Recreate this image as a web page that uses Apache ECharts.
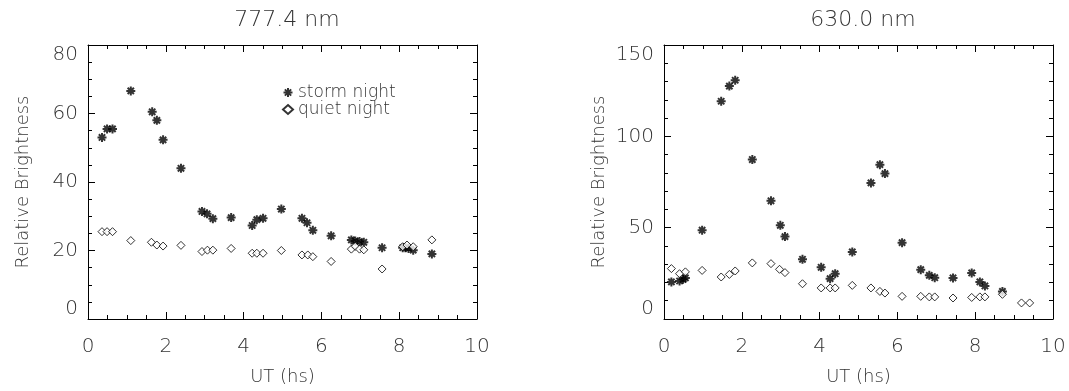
<!DOCTYPE html>
<html>
<head>
<meta charset="utf-8">
<script src="https://cdn.jsdelivr.net/npm/echarts@6/dist/echarts.min.js"></script>
<style>
  html, body { margin: 0; padding: 0; background: #fff; }
  #chart { width: 1069px; height: 391px; }
</style>
</head>
<body>
<div id="chart"></div>
<script>
// 777.4 nm panel
const storm777X = [0.36, 0.49, 0.63, 1.1, 1.65, 1.77, 1.93, 2.39, 2.93, 3.06, 3.21, 3.68, 4.22, 4.34, 4.5, 4.97, 5.5, 5.63, 5.78, 6.25, 6.77, 6.87, 6.98, 7.09, 7.56, 8.09, 8.16, 8.24, 8.36, 8.84];
const storm777Y = [53.0, 55.5, 55.5, 66.6, 60.5, 58.0, 52.3, 44.0, 31.4, 30.7, 29.3, 29.6, 27.3, 29.0, 29.4, 32.1, 29.4, 28.1, 25.9, 24.3, 23.1, 22.8, 22.6, 22.4, 20.8, 20.8, 20.8, 20.6, 20.1, 19.0];
const quiet777X = [0.36, 0.49, 0.63, 1.1, 1.63, 1.77, 1.93, 2.39, 2.93, 3.07, 3.21, 3.68, 4.22, 4.34, 4.5, 4.97, 5.5, 5.65, 5.78, 6.25, 6.77, 6.87, 6.98, 7.09, 7.56, 8.09, 8.2, 8.36, 8.84];
const quiet777Y = [25.5, 25.5, 25.5, 22.9, 22.4, 21.6, 21.3, 21.5, 19.7, 20.1, 20.1, 20.6, 19.2, 19.2, 19.2, 20.0, 18.7, 18.7, 18.2, 16.8, 20.4, 21.2, 20.4, 20.2, 14.6, 21.1, 21.6, 21.1, 23.1];

// 630.0 nm panel
const storm630X = [0.19, 0.40, 0.49, 0.55, 0.98, 1.47, 1.68, 1.83, 2.27, 2.75, 2.99, 3.11, 3.56, 4.04, 4.27, 4.40, 4.84, 5.32, 5.55, 5.68, 6.12, 6.60, 6.82, 6.96, 7.43, 7.91, 8.12, 8.25, 8.70];
const storm630Y = [20.3, 20.8, 21.7, 22.5, 48.6, 119.2, 127.5, 130.7, 87.3, 64.7, 51.3, 45.1, 32.7, 28.3, 22.1, 24.8, 36.7, 74.5, 84.5, 79.6, 41.8, 27.0, 23.9, 22.6, 22.5, 25.2, 20.3, 18.1, 15.1];
const quiet630X = [0.19, 0.40, 0.55, 0.98, 1.47, 1.68, 1.83, 2.27, 2.75, 2.97, 3.11, 3.56, 4.04, 4.27, 4.40, 4.84, 5.32, 5.55, 5.68, 6.12, 6.60, 6.82, 6.96, 7.43, 7.91, 8.12, 8.25, 8.70, 9.19, 9.40];
const quiet630Y = [27.6, 24.8, 25.8, 26.6, 23.0, 24.4, 26.3, 30.7, 30.3, 27.2, 25.4, 19.3, 17.0, 17.0, 17.0, 18.4, 17.0, 15.1, 14.2, 12.4, 12.4, 12.1, 12.1, 11.5, 11.8, 12.1, 12.1, 13.5, 8.8, 8.8];

const titles = ["777.4 nm", "630.0 nm"];
const yRanges = [[0, 80, 20, 4], [0, 150, 50, 5]];

const font = "DejaVu Sans";
const ink = "#333";
const asterisk = "path://M0,5L10,5M5,0L5,10M1.5,1.5L8.5,8.5M8.5,1.5L1.5,8.5";

function zip(xs, ys) {
    return xs.map((x, i) => [x, ys[i]]);
}

// box edges, ticks pointing into the plot like the IDL original
function line() {
    return { show: true, onZero: false, lineStyle: { color: "#000", width: 1 } };
}
function ticks() {
    return { show: true, inside: true, length: 7 };
}
function minors(n) {
    return { show: true, splitNumber: n, length: 4, lineStyle: { color: "#000" } };
}
function hiddenSplit() {
    return { show: true, lineStyle: { opacity: 0 } };
}

const grids = [
    { left: 88, top: 45, width: 389, height: 276 },
    { left: 664, top: 45, width: 389, height: 276 },
];

const xAxes = [];
const yAxes = [];
[0, 1].forEach((g) => {
    xAxes.push({
        gridIndex: g, type: "value", min: 0, max: 10, interval: 2,
        axisLine: line(), axisTick: ticks(), minorTick: minors(4), splitLine: hiddenSplit(),
        axisLabel: { margin: 18, fontSize: 20, fontFamily: font, fontWeight: 200, color: ink },
        name: "UT (hs)", nameLocation: "middle", nameGap: 49,
        nameTextStyle: { fontSize: 18, fontFamily: font, fontWeight: 200, color: ink },
    });
    xAxes.push({
        gridIndex: g, type: "value", min: 0, max: 10, interval: 2, position: "top",
        axisLine: line(), axisTick: ticks(), minorTick: minors(4), splitLine: hiddenSplit(),
        axisLabel: { show: false },
    });
    const r = yRanges[g];
    yAxes.push({
        gridIndex: g, type: "value", min: r[0], max: r[1], interval: r[2],
        axisLine: line(), axisTick: ticks(), minorTick: minors(r[3]), splitLine: hiddenSplit(),
        axisLabel: {
            margin: 10, fontSize: 20, fontFamily: font, fontWeight: 200, color: ink,
            verticalAlignMinLabel: "bottom", verticalAlignMaxLabel: "top",
        },
        name: "Relative Brightness", nameLocation: "middle", nameGap: 56,
        nameTextStyle: { fontSize: 18, fontFamily: font, fontWeight: 200, color: ink },
    });
    yAxes.push({
        gridIndex: g, type: "value", min: r[0], max: r[1], interval: r[2], position: "right",
        axisLine: line(), axisTick: ticks(), minorTick: minors(r[3]), splitLine: hiddenSplit(),
        axisLabel: { show: false },
    });
});

const stormStyle = { color: "none", borderColor: "#000", borderWidth: 2 };
const quietStyle = { color: "#fff", borderColor: "#000", borderWidth: 1 };

const chart = echarts.init(document.getElementById("chart"));
chart.setOption({
    animation: false,
    title: [
        { text: titles[0], left: 282, top: 4, textAlign: "center",
          textStyle: { fontSize: 22, fontWeight: 200, fontFamily: font, color: ink } },
        { text: titles[1], left: 858, top: 4, textAlign: "center",
          textStyle: { fontSize: 22, fontWeight: 200, fontFamily: font, color: ink } },
    ],
    legend: {
        data: ["storm night", "quiet night"],
        orient: "vertical", left: 276, top: 79, itemGap: 0,
        itemWidth: 10, itemHeight: 9,
        textStyle: { fontSize: 17, fontFamily: font, fontWeight: 200, color: ink },
    },
    grid: grids,
    xAxis: xAxes,
    yAxis: yAxes,
    series: [
        { name: "storm night", type: "scatter", xAxisIndex: 0, yAxisIndex: 0,
          symbol: asterisk, symbolSize: 9, itemStyle: stormStyle, data: zip(storm777X, storm777Y) },
        { name: "quiet night", type: "scatter", xAxisIndex: 0, yAxisIndex: 0,
          symbol: "diamond", symbolSize: 8, itemStyle: quietStyle, data: zip(quiet777X, quiet777Y) },
        { name: "storm night", type: "scatter", xAxisIndex: 2, yAxisIndex: 2,
          symbol: asterisk, symbolSize: 9, itemStyle: stormStyle, data: zip(storm630X, storm630Y) },
        { name: "quiet night", type: "scatter", xAxisIndex: 2, yAxisIndex: 2,
          symbol: "diamond", symbolSize: 8, itemStyle: quietStyle, data: zip(quiet630X, quiet630Y) },
    ],
});
</script>
</body>
</html>
